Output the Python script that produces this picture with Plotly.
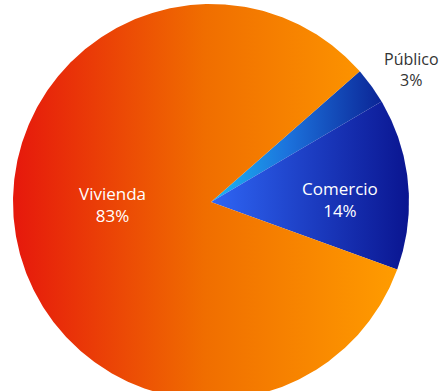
import numpy as np
import plotly.graph_objects as go

# Share of each sector (%)
labels = ["Público", "Comercio", "Vivienda"]
values = [3, 14, 83]

# Horizontal colour ramps per sector (left -> right)
gradients = {
    "Público": [[0, "#1ab8f4"], [0.45, "#1c72dc"], [1, "#0b2596"]],
    "Comercio": [[0, "#2f66f5"], [1, "#0a1590"]],
    "Vivienda": [[0, "#e6180c"], [0.5, "#f06e00"], [1, "#ff9c00"]],
}

start_deg = 41.3  # first slice begins here, slices run clockwise

fig = go.Figure()
total = float(sum(values))
angle = start_deg
for lab, val in zip(labels, values):
    sweep = 360.0 * val / total
    t = np.radians(np.linspace(angle, angle - sweep, max(int(sweep * 2), 8)))
    xs = np.concatenate([[0.0], np.cos(t), [0.0]])
    ys = np.concatenate([[0.0], np.sin(t), [0.0]])
    fig.add_trace(go.Scatter(
        x=xs, y=ys, mode="lines", fill="toself",
        line=dict(width=0, color="rgba(0,0,0,0)"),
        fillgradient=dict(type="horizontal", colorscale=gradients[lab]),
        hoverinfo="skip", showlegend=False,
    ))
    angle -= sweep

font = "Open Sans, Noto Sans, sans-serif"
fig.add_annotation(x=-0.497, y=-0.015, text="Vivienda<br>83%", showarrow=False,
                   font=dict(family=font, size=17, color="#ffffff"))
fig.add_annotation(x=0.652, y=0.013, text="Comercio<br>14%", showarrow=False,
                   font=dict(family=font, size=17, color="#ffffff"))
fig.add_annotation(x=1.015, y=0.667, text="Público<br>3%", showarrow=False,
                   font=dict(family=font, size=16, color="#333333"))

fig.update_layout(
    width=445, height=391,
    margin=dict(l=0, r=0, t=0, b=0),
    paper_bgcolor="white", plot_bgcolor="white",
    xaxis=dict(range=[-211 / 198, 234 / 198], visible=False, fixedrange=True),
    yaxis=dict(range=[-189 / 198, 202 / 198], visible=False, fixedrange=True),
)

fig.write_html("out.html", config={"displayModeBar": False})
